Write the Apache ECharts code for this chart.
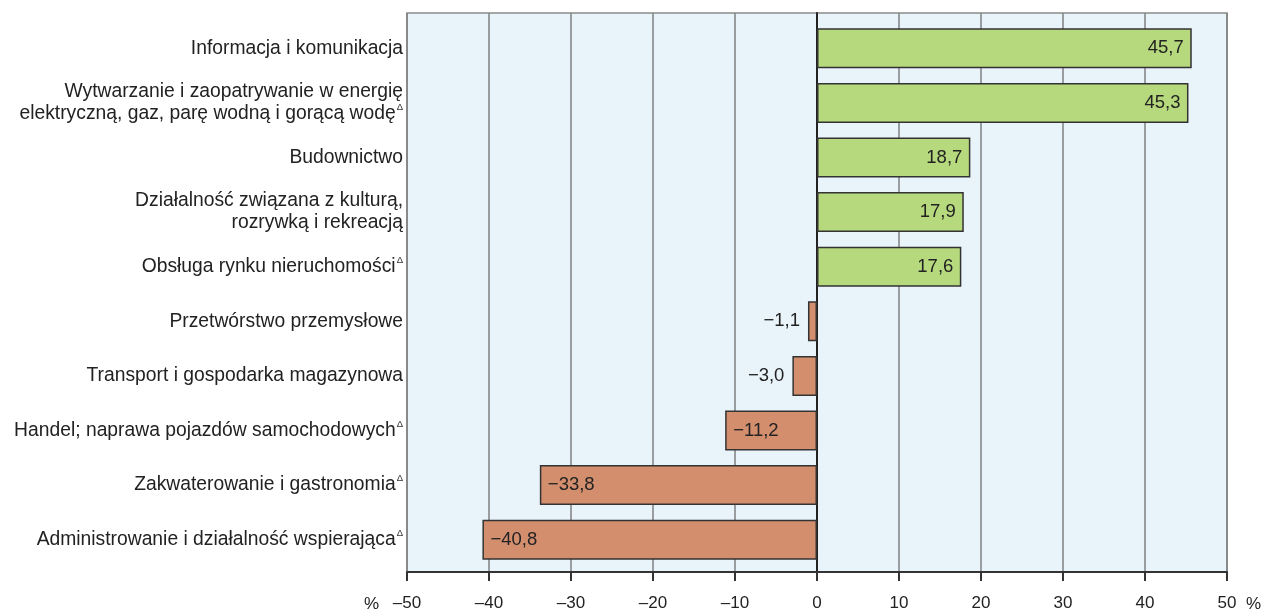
<!DOCTYPE html>
<html><head><meta charset="utf-8">
<script src="https://cdn.jsdelivr.net/npm/echarts@6/dist/echarts.min.js"></script>
<style>html,body{margin:0;padding:0;background:#fff}#c{width:1266px;height:612px}</style>
</head><body><div id="c"></div>
<script>
const categories = [
  'Informacja i komunikacja',
  'Wytwarzanie i zaopatrywanie w energię\nelektryczną, gaz, parę wodną i gorącą wodę',
  'Budownictwo',
  'Działalność związana z kulturą,\nrozrywką i rekreacją',
  'Obsługa rynku nieruchomości',
  'Przetwórstwo przemysłowe',
  'Transport i gospodarka magazynowa',
  'Handel; naprawa pojazdów samochodowych',
  'Zakwaterowanie i gastronomia',
  'Administrowanie i działalność wspierająca'
];
const deltaMark = [false, true, false, false, true, false, false, true, true, true];
const values = [45.7, 45.3, 18.7, 17.9, 17.6, -1.1, -3.0, -11.2, -33.8, -40.8];
const xTicks = [-50, -40, -30, -20, -10, 0, 10, 20, 30, 40, 50];

const FONT = 'Liberation Sans, Arial, sans-serif';
const fmtNum = v => (v < 0 ? '\u2212' : '') + Math.abs(v).toFixed(1).replace('.', ',');

const barData = values.map(v => {
  let pos;
  if (v >= 0) pos = 'insideRight';
  else if (v > -8) pos = 'left';
  else pos = 'insideLeft';
  return {
    value: v,
    itemStyle: { color: v >= 0 ? '#b6d97d' : '#d38e6e' },
    label: { position: pos }
  };
});

const chart = echarts.init(document.getElementById('c'));
chart.setOption({
  animation: false,
  grid: [
    { left: 407, right: 39, top: 21, height: 546, show: false },
    { left: 407, right: 39, top: 13, height: 561, show: true,
      backgroundColor: '#e8f3fa', borderColor: '#8a8a8a', borderWidth: 1.5 }
  ],
  xAxis: [
    { gridIndex: 0, type: 'value', min: xTicks[0], max: xTicks[xTicks.length - 1], interval: 10, show: false },
    { gridIndex: 1, type: 'value', min: xTicks[0], max: xTicks[xTicks.length - 1], interval: 10,
      axisLine: { show: true, onZero: false, lineStyle: { color: '#333', width: 2 } },
      axisTick: { show: true, length: 9, lineStyle: { color: '#333', width: 2 } },
      splitLine: { show: true, lineStyle: { color: '#808080', width: 1.5 } },
      axisLabel: { margin: 23, fontSize: 17, color: '#222', fontFamily: FONT,
        formatter: v => (v < 0 ? '–' + Math.abs(v) : String(v)) }
    }
  ],
  yAxis: [
    { gridIndex: 0, type: 'category', data: categories, inverse: true,
      axisLine: { show: false }, axisTick: { show: false },
      axisLabel: {
        margin: 4, color: '#222', fontSize: 19.3, fontFamily: FONT, lineHeight: 22,
        formatter: (val, idx) => {
          const lines = val.split('\n').map(l => '{a|' + l + '}');
          if (deltaMark[idx]) lines[lines.length - 1] += '{s|Δ}';
          return lines.join('\n');
        },
        rich: {
          a: { fontSize: 19.3, color: '#222', fontFamily: FONT, lineHeight: 22 },
          s: { fontSize: 9.5, color: '#333', fontFamily: FONT, padding: [0, 0, 13, 1] }
        }
      }
    },
    { gridIndex: 1, type: 'value', min: 0, max: 1,
      axisLine: { show: true, onZero: true, lineStyle: { color: '#222', width: 2 } },
      axisTick: { show: false }, axisLabel: { show: false }, splitLine: { show: false }
    }
  ],
  series: [{
    type: 'bar', xAxisIndex: 0, yAxisIndex: 0,
    data: barData, barWidth: 40,
    itemStyle: { borderColor: '#333', borderWidth: 1.5 },
    label: { show: true, distance: 8, fontSize: 18.5, color: '#222', fontFamily: FONT,
      formatter: p => fmtNum(p.value) }
  }],
  graphic: [
    { type: 'text', left: 364, top: 596, style: { text: '%', fontSize: 17, fill: '#222', fontFamily: FONT } },
    { type: 'text', left: 1246, top: 596, style: { text: '%', fontSize: 17, fill: '#222', fontFamily: FONT } }
  ]
});
</script></body></html>
